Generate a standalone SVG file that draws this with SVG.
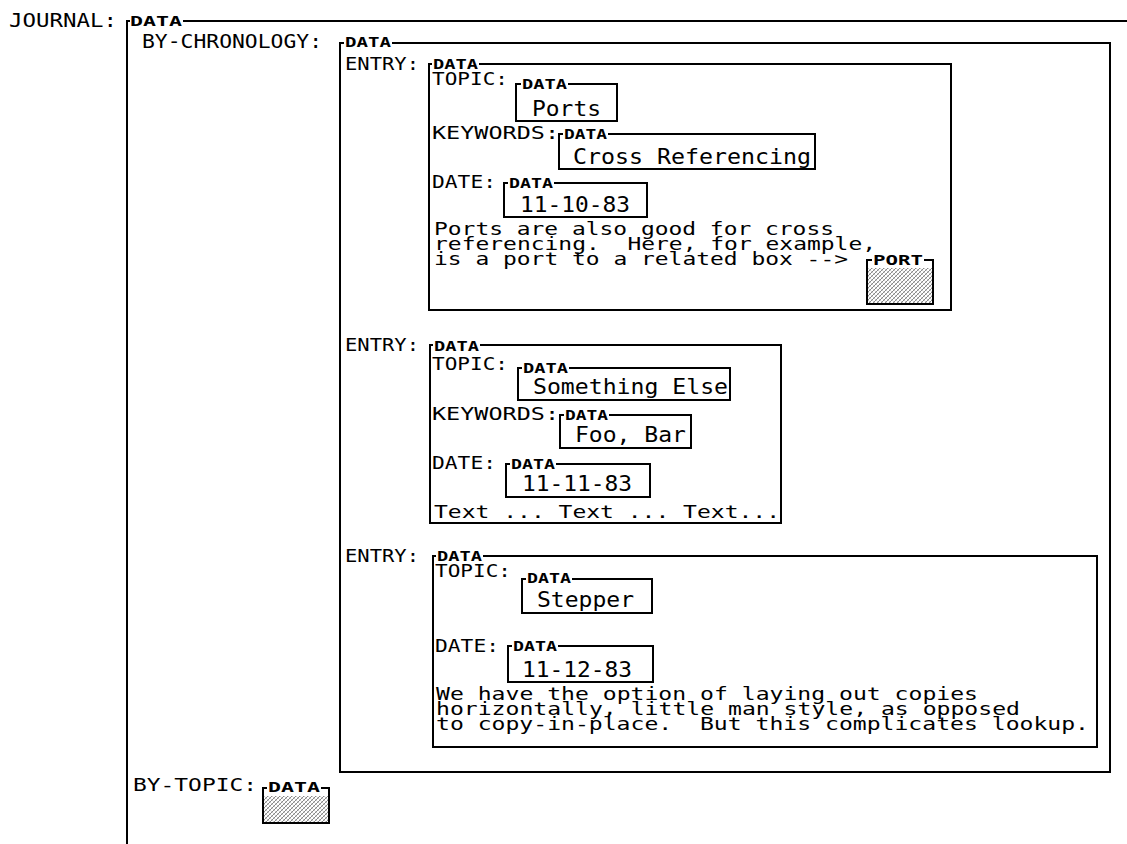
<svg xmlns="http://www.w3.org/2000/svg" width="1127" height="844" viewBox="0 0 1127 844" xml:space="preserve">
<style>
text{font-family:"DejaVu Sans Mono","Liberation Mono",monospace;fill:#000;white-space:pre}
.big{font-size:20px}
.lbl{font-size:17px}
.tag{font-size:14px;font-weight:bold}
.val{font-size:21px}
.body{font-size:17px}
.box{fill:none;stroke:#000;stroke-width:2}
.hatch{fill:url(#hp);stroke:none}
</style>
<defs>
<pattern id="hp" width="4" height="4" patternUnits="userSpaceOnUse">
<rect width="4" height="4" fill="#fff"/>
<path d="M0,4 L4,0 M-1,1 L1,-1 M3,5 L5,3" stroke="#555" stroke-width="0.7"/>
<path d="M0,0 L4,4" stroke="#999" stroke-width="0.5"/>
</pattern>
</defs>
<g id="connectors"/>
<g id="journal">
<text class="big" x="9" y="27" textLength="108" lengthAdjust="spacingAndGlyphs">JOURNAL:</text>
<text class="tag" x="130" y="26" textLength="52" lengthAdjust="spacingAndGlyphs">DATA</text>
<path class="box" d="M1127,21 H183 M130,21 H127 V844"/>
</g>
<g id="by-chronology">
<text class="big" x="142" y="48" textLength="180" lengthAdjust="spacingAndGlyphs">BY-CHRONOLOGY:</text>
<text class="tag" x="345" y="47" textLength="46" lengthAdjust="spacingAndGlyphs">DATA</text>
<path class="box" d="M392,43 H1110 V772 H340 V43 H344"/>
</g>
<g id="entry-1">
<text class="lbl" x="345" y="70" textLength="74" lengthAdjust="spacingAndGlyphs">ENTRY:</text>
<text class="tag" x="433" y="69" textLength="45" lengthAdjust="spacingAndGlyphs">DATA</text>
<path class="box" d="M479,64 H951 V310 H429 V64 H432"/>
<g id="entry-1-topic">
<text class="lbl" x="432" y="85" textLength="76" lengthAdjust="spacingAndGlyphs">TOPIC:</text>
<text class="tag" x="522" y="89" textLength="45" lengthAdjust="spacingAndGlyphs">DATA</text>
<path class="box" d="M568,84 H617 V121 H516 V84 H521"/>
<text class="val" x="532" y="116" textLength="69" lengthAdjust="spacingAndGlyphs">Ports</text>
</g>
<g id="entry-1-keywords">
<text class="lbl" x="432" y="139" textLength="127" lengthAdjust="spacingAndGlyphs">KEYWORDS:</text>
<text class="tag" x="564" y="139" textLength="43" lengthAdjust="spacingAndGlyphs">DATA</text>
<path class="box" d="M608,134 H815 V169 H559 V134 H563"/>
<text class="val" x="573" y="164" textLength="238" lengthAdjust="spacingAndGlyphs">Cross Referencing</text>
</g>
<g id="entry-1-date">
<text class="lbl" x="432" y="188" textLength="64" lengthAdjust="spacingAndGlyphs">DATE:</text>
<text class="tag" x="509" y="188" textLength="44" lengthAdjust="spacingAndGlyphs">DATA</text>
<path class="box" d="M554,183 H647 V217 H504 V183 H508"/>
<text class="val" x="520" y="212" textLength="110" lengthAdjust="spacingAndGlyphs">11-10-83</text>
</g>
<text class="body"><tspan x="434" y="235" textLength="400" lengthAdjust="spacingAndGlyphs">Ports are also good for cross</tspan><tspan x="434" y="250" textLength="442" lengthAdjust="spacingAndGlyphs">referencing.  Here, for example,</tspan><tspan x="434" y="265" textLength="414" lengthAdjust="spacingAndGlyphs">is a port to a related box --&gt;</tspan></text>
<g id="entry-1-port">
<rect class="hatch" x="868" y="268" width="64" height="35"/>
<text class="tag" x="873" y="265" textLength="50" lengthAdjust="spacingAndGlyphs">PORT</text>
<path class="box" d="M924,260 H933 V304 H867 V260 H872"/>
</g>
</g>
<g id="entry-2">
<text class="lbl" x="345" y="351" textLength="74" lengthAdjust="spacingAndGlyphs">ENTRY:</text>
<text class="tag" x="434" y="351" textLength="45" lengthAdjust="spacingAndGlyphs">DATA</text>
<path class="box" d="M480,345 H781 V523 H430 V345 H433"/>
<g id="entry-2-topic">
<text class="lbl" x="432" y="370" textLength="76" lengthAdjust="spacingAndGlyphs">TOPIC:</text>
<text class="tag" x="523" y="373" textLength="45" lengthAdjust="spacingAndGlyphs">DATA</text>
<path class="box" d="M569,368 H730 V400 H518 V368 H522"/>
<text class="val" x="533" y="394" textLength="195" lengthAdjust="spacingAndGlyphs">Something Else</text>
</g>
<g id="entry-2-keywords">
<text class="lbl" x="432" y="420" textLength="127" lengthAdjust="spacingAndGlyphs">KEYWORDS:</text>
<text class="tag" x="565" y="420" textLength="43" lengthAdjust="spacingAndGlyphs">DATA</text>
<path class="box" d="M609,415 H691 V448 H560 V415 H564"/>
<text class="val" x="575" y="442" textLength="111" lengthAdjust="spacingAndGlyphs">Foo, Bar</text>
</g>
<g id="entry-2-date">
<text class="lbl" x="432" y="469" textLength="64" lengthAdjust="spacingAndGlyphs">DATE:</text>
<text class="tag" x="511" y="469" textLength="44" lengthAdjust="spacingAndGlyphs">DATA</text>
<path class="box" d="M556,464 H650 V497 H506 V464 H510"/>
<text class="val" x="522" y="491" textLength="110" lengthAdjust="spacingAndGlyphs">11-11-83</text>
</g>
<text class="body" x="434" y="518" textLength="346" lengthAdjust="spacingAndGlyphs">Text ... Text ... Text...</text>
</g>
<g id="entry-3">
<text class="lbl" x="345" y="562" textLength="74" lengthAdjust="spacingAndGlyphs">ENTRY:</text>
<text class="tag" x="437" y="561" textLength="45" lengthAdjust="spacingAndGlyphs">DATA</text>
<path class="box" d="M483,556 H1097 V747 H433 V556 H436"/>
<g id="entry-3-topic">
<text class="lbl" x="435" y="577" textLength="76" lengthAdjust="spacingAndGlyphs">TOPIC:</text>
<text class="tag" x="527" y="583" textLength="44" lengthAdjust="spacingAndGlyphs">DATA</text>
<path class="box" d="M572,579 H652 V613 H522 V579 H526"/>
<text class="val" x="537" y="607" textLength="97" lengthAdjust="spacingAndGlyphs">Stepper</text>
</g>
<g id="entry-3-date">
<text class="lbl" x="435" y="652" textLength="64" lengthAdjust="spacingAndGlyphs">DATE:</text>
<text class="tag" x="513" y="651" textLength="44" lengthAdjust="spacingAndGlyphs">DATA</text>
<path class="box" d="M558,646 H653 V682 H508 V646 H512"/>
<text class="val" x="522" y="677" textLength="110" lengthAdjust="spacingAndGlyphs">11-12-83</text>
</g>
<text class="body"><tspan x="436" y="700" textLength="542" lengthAdjust="spacingAndGlyphs">We have the option of laying out copies</tspan><tspan x="436" y="715" textLength="584" lengthAdjust="spacingAndGlyphs">horizontally, little man style, as opposed</tspan><tspan x="436" y="730" textLength="653" lengthAdjust="spacingAndGlyphs">to copy-in-place.  But this complicates lookup.</tspan></text>
</g>
<g id="by-topic">
<text class="lbl" x="133" y="791" textLength="124" lengthAdjust="spacingAndGlyphs">BY-TOPIC:</text>
<rect class="hatch" x="264" y="796" width="64" height="26"/>
<text class="tag" x="268" y="792" textLength="52" lengthAdjust="spacingAndGlyphs">DATA</text>
<path class="box" d="M321,788 H329 V823 H263 V788 H267"/>
</g>
</svg>
